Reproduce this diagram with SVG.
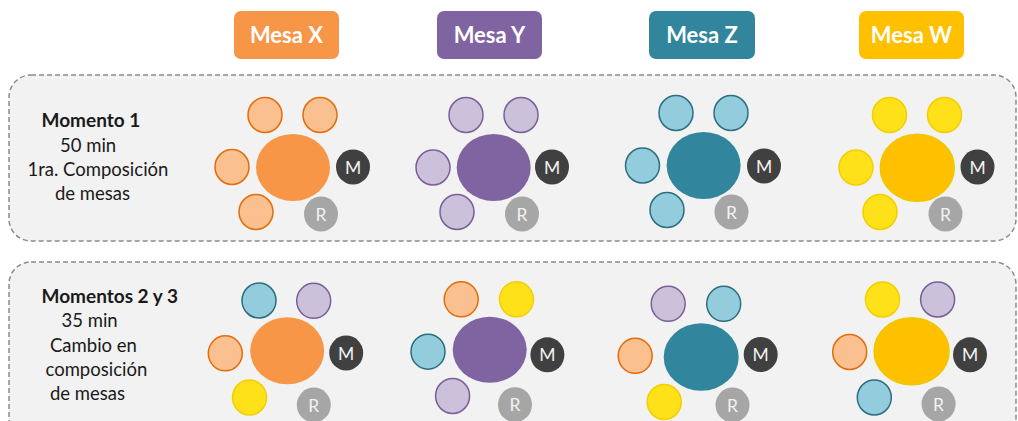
<svg xmlns="http://www.w3.org/2000/svg" width="1018" height="421" viewBox="0 0 1018 421">
  <style>
    .panel { fill: #f2f2f2; stroke: #8c8c8c; stroke-width: 1.5; stroke-dasharray: 5 3; }
    .hdr-text { font-family: Lato, "Open Sans", sans-serif; font-weight: bold; font-size: 22px; fill: #ffffff; text-anchor: middle; }
    .lbl { font-family: Lato, "Open Sans", sans-serif; font-size: 18.5px; fill: #1a1a1a; }
    .lbl-b { font-weight: bold; font-size: 19px; }
    .role { font-family: Lato, "Open Sans", sans-serif; font-size: 17.5px; fill: #f2f2f2; text-anchor: middle; }
    .c-x { fill: #f79646; }
    .c-y { fill: #8064a2; }
    .c-z { fill: #31859c; }
    .c-w { fill: #ffc000; }
    .s-o { fill: #fac090; stroke: #e46c0a; stroke-width: 1.5; }
    .s-p { fill: #ccc1da; stroke: #7a5f99; stroke-width: 1.5; }
    .s-t { fill: #93cddd; stroke: #2b6f80; stroke-width: 1.5; }
    .s-y { fill: #ffe11a; stroke: #f2d000; stroke-width: 1.5; }
    .mod { fill: #404040; }
    .rel { fill: #a6a6a6; }
  </style>

  <!-- table headers -->
  <g id="header-x"><rect x="234" y="11" width="105" height="48" rx="7" class="c-x"/><text x="286.5" y="43" class="hdr-text">Mesa X</text></g>
  <g id="header-y"><rect x="437" y="11" width="105" height="48" rx="7" class="c-y"/><text x="489.5" y="43" class="hdr-text">Mesa Y</text></g>
  <g id="header-z"><rect x="649" y="11" width="106" height="48" rx="7" class="c-z"/><text x="702" y="43" class="hdr-text">Mesa Z</text></g>
  <g id="header-w"><rect x="859" y="11" width="105" height="48" rx="7" class="c-w"/><text x="911.5" y="43" class="hdr-text">Mesa W</text></g>

  <!-- moment panels -->
  <g id="panel-1">
    <rect x="9" y="75" width="1007" height="166" rx="22" class="panel"/>
    <text class="lbl lbl-b" x="41.5" y="127">Momento 1</text>
    <text class="lbl" x="60" y="152">50 min</text>
    <text class="lbl" x="27.5" y="176">1ra. Composición</text>
    <text class="lbl" x="55" y="200">de mesas</text>
  </g>
  <g id="panel-2">
    <rect x="9" y="262" width="1007" height="200" rx="22" class="panel"/>
    <text class="lbl lbl-b" x="41.5" y="303">Momentos 2 y 3</text>
    <text class="lbl" x="61.5" y="327">35 min</text>
    <text class="lbl" x="50" y="352">Cambio en</text>
    <text class="lbl" x="45.5" y="376">composición</text>
    <text class="lbl" x="50" y="400">de mesas</text>
  </g>

  <!-- moment 1 tables -->
  <g id="m1-mesa-x">
    <ellipse cx="265" cy="115" rx="17" ry="17.5" class="s-o"/>
    <ellipse cx="320" cy="115" rx="17" ry="17.5" class="s-o"/>
    <ellipse cx="232" cy="167" rx="17" ry="17.5" class="s-o"/>
    <ellipse cx="256" cy="212" rx="17" ry="17.5" class="s-o"/>
    <ellipse cx="293" cy="167.5" rx="37" ry="33.5" class="c-x"/>
    <ellipse cx="353" cy="167" rx="17" ry="17.5" class="mod"/><text x="353" y="173.5" class="role">M</text>
    <ellipse cx="321" cy="214" rx="17" ry="17.5" class="rel"/><text x="321" y="220.5" class="role">R</text>
  </g>
  <g id="m1-mesa-y">
    <ellipse cx="466" cy="115" rx="17" ry="17.5" class="s-p"/>
    <ellipse cx="521" cy="115" rx="17" ry="17.5" class="s-p"/>
    <ellipse cx="433" cy="167.5" rx="17" ry="17.5" class="s-p"/>
    <ellipse cx="457" cy="212" rx="17" ry="17.5" class="s-p"/>
    <ellipse cx="493.7" cy="167.5" rx="37" ry="33.5" class="c-y"/>
    <ellipse cx="552" cy="167" rx="17" ry="17.5" class="mod"/><text x="552" y="173.5" class="role">M</text>
    <ellipse cx="522" cy="214" rx="17" ry="17.5" class="rel"/><text x="522" y="220.5" class="role">R</text>
  </g>
  <g id="m1-mesa-z">
    <ellipse cx="676" cy="113" rx="17" ry="17.5" class="s-t"/>
    <ellipse cx="731" cy="113" rx="17" ry="17.5" class="s-t"/>
    <ellipse cx="642.5" cy="165.5" rx="17" ry="17.5" class="s-t"/>
    <ellipse cx="667" cy="210" rx="17" ry="17.5" class="s-t"/>
    <ellipse cx="703.6" cy="165.5" rx="37" ry="33.5" class="c-z"/>
    <ellipse cx="764" cy="166" rx="17" ry="17.5" class="mod"/><text x="764" y="172.5" class="role">M</text>
    <ellipse cx="731.5" cy="212" rx="17" ry="17.5" class="rel"/><text x="731.5" y="218.5" class="role">R</text>
  </g>
  <g id="m1-mesa-w">
    <ellipse cx="889.5" cy="115" rx="17" ry="17.5" class="s-y"/>
    <ellipse cx="944.5" cy="115" rx="17" ry="17.5" class="s-y"/>
    <ellipse cx="856" cy="167.5" rx="17" ry="17.5" class="s-y"/>
    <ellipse cx="880" cy="212" rx="17" ry="17.5" class="s-y"/>
    <ellipse cx="917.3" cy="167.8" rx="37" ry="33.5" class="c-w" stroke="#ecc800" stroke-width="1.5"/>
    <ellipse cx="977.5" cy="167" rx="17" ry="17.5" class="mod"/><text x="977.5" y="173.5" class="role">M</text>
    <ellipse cx="945.5" cy="214" rx="17" ry="17.5" class="rel"/><text x="945.5" y="220.5" class="role">R</text>
  </g>

  <!-- moment 2 and 3 tables -->
  <g id="m2-mesa-x">
    <ellipse cx="259" cy="300.5" rx="17" ry="17.5" class="s-t"/>
    <ellipse cx="313.7" cy="300.8" rx="17" ry="17.5" class="s-p"/>
    <ellipse cx="225.3" cy="353.3" rx="17" ry="17.5" class="s-o"/>
    <ellipse cx="249.5" cy="397.5" rx="17" ry="17.5" class="s-y"/>
    <ellipse cx="287.2" cy="350.8" rx="37" ry="33.5" class="c-x"/>
    <ellipse cx="346.2" cy="353" rx="17" ry="17.5" class="mod"/><text x="346.2" y="359.5" class="role">M</text>
    <ellipse cx="313.8" cy="405" rx="17" ry="17.5" class="rel"/><text x="313.8" y="411.5" class="role">R</text>
  </g>
  <g id="m2-mesa-y">
    <ellipse cx="461.2" cy="299.3" rx="17" ry="17.5" class="s-o"/>
    <ellipse cx="516.5" cy="299.3" rx="17" ry="17.5" class="s-y"/>
    <ellipse cx="428" cy="351.7" rx="17" ry="17.5" class="s-t"/>
    <ellipse cx="452.6" cy="396" rx="17" ry="17.5" class="s-p"/>
    <ellipse cx="489.7" cy="349.8" rx="37" ry="33" class="c-y"/>
    <ellipse cx="547.4" cy="354.8" rx="17" ry="17.5" class="mod"/><text x="547.4" y="361.3" class="role">M</text>
    <ellipse cx="515" cy="404.7" rx="17" ry="17.5" class="rel"/><text x="515" y="411.2" class="role">R</text>
  </g>
  <g id="m2-mesa-z">
    <ellipse cx="668.2" cy="303.8" rx="17" ry="17.5" class="s-p"/>
    <ellipse cx="723.7" cy="303.8" rx="17" ry="17.5" class="s-t"/>
    <ellipse cx="635.2" cy="355.8" rx="17" ry="17.5" class="s-o"/>
    <ellipse cx="664.2" cy="402" rx="17" ry="17.5" class="s-y"/>
    <ellipse cx="701.2" cy="357" rx="37.5" ry="33.7" class="c-z"/>
    <ellipse cx="760.7" cy="354.5" rx="17" ry="17.5" class="mod"/><text x="760.7" y="361" class="role">M</text>
    <ellipse cx="732.5" cy="405" rx="17" ry="17.5" class="rel"/><text x="732.5" y="411.5" class="role">R</text>
  </g>
  <g id="m2-mesa-w">
    <ellipse cx="882.5" cy="299.5" rx="17" ry="17.5" class="s-y"/>
    <ellipse cx="937.6" cy="299.5" rx="17" ry="17.5" class="s-p"/>
    <ellipse cx="849.7" cy="352" rx="17" ry="17.5" class="s-o"/>
    <ellipse cx="874.3" cy="397.5" rx="17" ry="17.5" class="s-t"/>
    <ellipse cx="911.6" cy="351.3" rx="37.5" ry="33.5" class="c-w" stroke="#ecc800" stroke-width="1.5"/>
    <ellipse cx="970" cy="354.8" rx="17" ry="17.5" class="mod"/><text x="970" y="361.3" class="role">M</text>
    <ellipse cx="938.6" cy="404" rx="17" ry="17.5" class="rel"/><text x="938.6" y="410.5" class="role">R</text>
  </g>
</svg>
